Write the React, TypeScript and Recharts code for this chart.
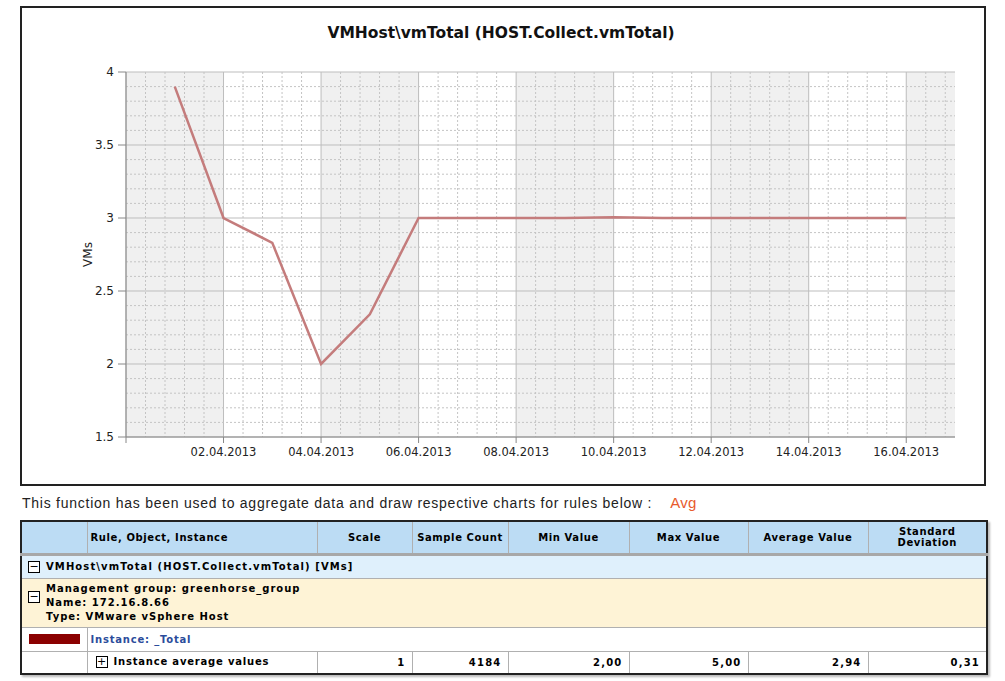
import React from 'react';
import { LineChart, Line, XAxis, YAxis, CartesianGrid } from 'recharts';

const days = [1, 2, 3, 4, 5, 6, 7, 8, 9, 10, 11, 12, 13, 14, 15, 16];
const vmValues = [3.9, 3.0, 2.83, 2.0, 2.34, 3.0, 3.0, 3.0, 3.0, 3.005, 3.0, 3.0, 3.0, 3.0, 3.0, 3.0];
const xTicks = [0, 2, 4, 6, 8, 10, 12, 14, 16];
const xTickLabels = ['', '02.04.2013', '04.04.2013', '06.04.2013', '08.04.2013', '10.04.2013', '12.04.2013', '14.04.2013', '16.04.2013'];
const yTicks = [1.5, 2, 2.5, 3, 3.5, 4];
const xMinor = [0.4, 0.8, 1.2, 1.6, 2.4, 2.8, 3.2, 3.6, 4.4, 4.8, 5.2, 5.6, 6.4, 6.8, 7.2, 7.6, 8.4, 8.8, 9.2, 9.6, 10.4, 10.8, 11.2, 11.6, 12.4, 12.8, 13.2, 13.6, 14.4, 14.8, 15.2, 15.6, 16.4, 16.8];
const yMinor = [1.6, 1.7, 1.8, 1.9, 2.1, 2.2, 2.3, 2.4, 2.6, 2.7, 2.8, 2.9, 3.1, 3.2, 3.3, 3.4, 3.6, 3.7, 3.8, 3.9];

const headers = ['', 'Rule, Object, Instance', 'Scale', 'Sample Count', 'Min Value', 'Max Value', 'Average Value', 'Standard Deviation'];
const colWidths = [66, 230, 95, 96, 121, 119, 120, 119];
const statValues = ['1', '4184', '2,00', '5,00', '2,94', '0,31'];

const data = days.map((d, i) => ({ day: d, value: vmValues[i] }));

const tableFont = "'DejaVu Sans', Verdana, sans-serif";

const Box = ({ sign }: { sign: string }) => (
  <span style={{ display: 'inline-block', width: 10, height: 10, border: '1px solid #000', lineHeight: '9px', textAlign: 'center', fontSize: 11, fontWeight: 'normal', letterSpacing: 0, marginRight: 6, verticalAlign: 'middle', background: '#fff' }}>{sign}</span>
);

export default function App() {
  const cellBorder = '1px solid #b0b0b0';
  const th: React.CSSProperties = { border: cellBorder, textAlign: 'center', fontWeight: 'bold', padding: '0 3px', fontSize: 10, letterSpacing: 0.6 };
  return (
    <div style={{ position: 'absolute', left: 0, top: 0, width: 1005, height: 681, background: '#fff' }}>
      <div style={{ position: 'absolute', left: 20, top: 6, width: 966, height: 480, border: '2px solid #222', boxSizing: 'border-box' }} />
      <div style={{ position: 'absolute', left: 0, width: 1002, top: 24, textAlign: 'center', fontFamily: "'DejaVu Sans', sans-serif", fontWeight: 'bold', fontSize: 15.5, color: '#111' }}>
        VMHost\vmTotal (HOST.Collect.vmTotal)
      </div>
      <div style={{ position: 'absolute', left: 0, top: 0 }}>
        <LineChart width={1005} height={490} data={data} margin={{ top: 72, right: 50, bottom: 23, left: 66 }}>
          <CartesianGrid verticalValues={xTicks} horizontalValues={yTicks} verticalFill={['#f0f0f0', '#ffffff']} stroke="#bdbdbd" strokeWidth={1} />
          <CartesianGrid verticalValues={xMinor} horizontalValues={yMinor} stroke="#c4c4c4" strokeDasharray="2 2" fill="none" />
          <XAxis
            dataKey="day"
            type="number"
            domain={[0, 17]}
            ticks={xTicks}
            interval={0}
            tickFormatter={(v: number) => xTickLabels[xTicks.indexOf(v)] ?? ''}
            stroke="#888"
            tickSize={6}
            tickMargin={5}
            height={30}
            tick={{ fill: '#222', fontSize: 11.5, fontFamily: "'DejaVu Sans', sans-serif" }}
          />
          <YAxis
            type="number"
            domain={[1.5, 4]}
            ticks={yTicks}
            interval={0}
            width={60}
            stroke="#888"
            tickSize={8}
            tickMargin={4}
            tick={{ fill: '#222', fontSize: 12, fontFamily: "'DejaVu Sans', sans-serif" }}
            label={{ value: 'VMs', angle: -90, position: 'insideLeft', offset: 22, style: { fill: '#222', fontSize: 12, fontFamily: "'DejaVu Sans', sans-serif", textAnchor: 'middle' } }}
          />
          <Line dataKey="value" type="linear" stroke="#c47c7c" strokeWidth={2.5} dot={false} isAnimationActive={false} />
        </LineChart>
      </div>
      <div style={{ position: 'absolute', left: 22, top: 494, fontFamily: "'Liberation Sans', Arial, sans-serif", fontSize: 14, letterSpacing: 0.75, color: '#222', whiteSpace: 'nowrap' }}>
        This function has been used to aggregate data and draw respective charts for rules below :
        <span style={{ color: '#e85a2c', fontSize: 15, marginLeft: 18, letterSpacing: 0.3 }}>Avg</span>
      </div>
      <table style={{ position: 'absolute', left: 20, top: 520, width: 966, borderCollapse: 'collapse', tableLayout: 'fixed', fontFamily: tableFont, fontSize: 10, color: '#000', border: '2px solid #222', boxShadow: '2px 2px 2px #bbb' }}>
        <colgroup>
          {colWidths.map((w, i) => <col key={i} style={{ width: w }} />)}
        </colgroup>
        <tbody>
          <tr style={{ height: 33, background: '#bcdcf4', borderBottom: '3px solid #a8a8a8' }}>
            {headers.map((h, i) => (
              <td key={i} style={{ ...th, textAlign: i === 1 ? 'left' : 'center', padding: i === 7 ? '0 16px' : '0 3px' }}>{h}</td>
            ))}
          </tr>
          <tr style={{ height: 24, background: '#dff0fc' }}>
            <td colSpan={8} style={{ border: cellBorder, padding: '0 6px', fontWeight: 'bold', letterSpacing: 1.1 }}>
              <Box sign="−" />VMHost\vmTotal (HOST.Collect.vmTotal) [VMs]
            </td>
          </tr>
          <tr style={{ height: 49, background: '#fef3d6' }}>
            <td colSpan={8} style={{ border: cellBorder, padding: '0 6px', fontWeight: 'bold', letterSpacing: 1.0, lineHeight: '14px' }}>
              <div style={{ display: 'flex', alignItems: 'flex-start' }}>
                <div style={{ marginTop: 8 }}><Box sign="−" /></div>
                <div>Management group: greenhorse_group<br />Name: 172.16.8.66<br />Type: VMware vSphere Host</div>
              </div>
            </td>
          </tr>
          <tr style={{ height: 24, background: '#fff' }}>
            <td style={{ border: cellBorder, padding: '0 7px' }}>
              <div style={{ width: 51, height: 10, background: '#8b0000' }} />
            </td>
            <td colSpan={7} style={{ border: cellBorder, padding: '0 3px', fontWeight: 'bold', color: '#2b4c9b', letterSpacing: 0.8 }}>Instance: _Total</td>
          </tr>
          <tr style={{ height: 23, background: '#fff' }}>
            <td style={{ border: cellBorder }} />
            <td style={{ border: cellBorder, padding: '0 8px', fontWeight: 'bold', letterSpacing: 0.8 }}><Box sign="+" />Instance average values</td>
            {statValues.map((v, i) => (
              <td key={i} style={{ border: cellBorder, textAlign: 'right', padding: '0 6px', fontWeight: 'bold', letterSpacing: 1.2 }}>{v}</td>
            ))}
          </tr>
        </tbody>
      </table>
    </div>
  );
}
